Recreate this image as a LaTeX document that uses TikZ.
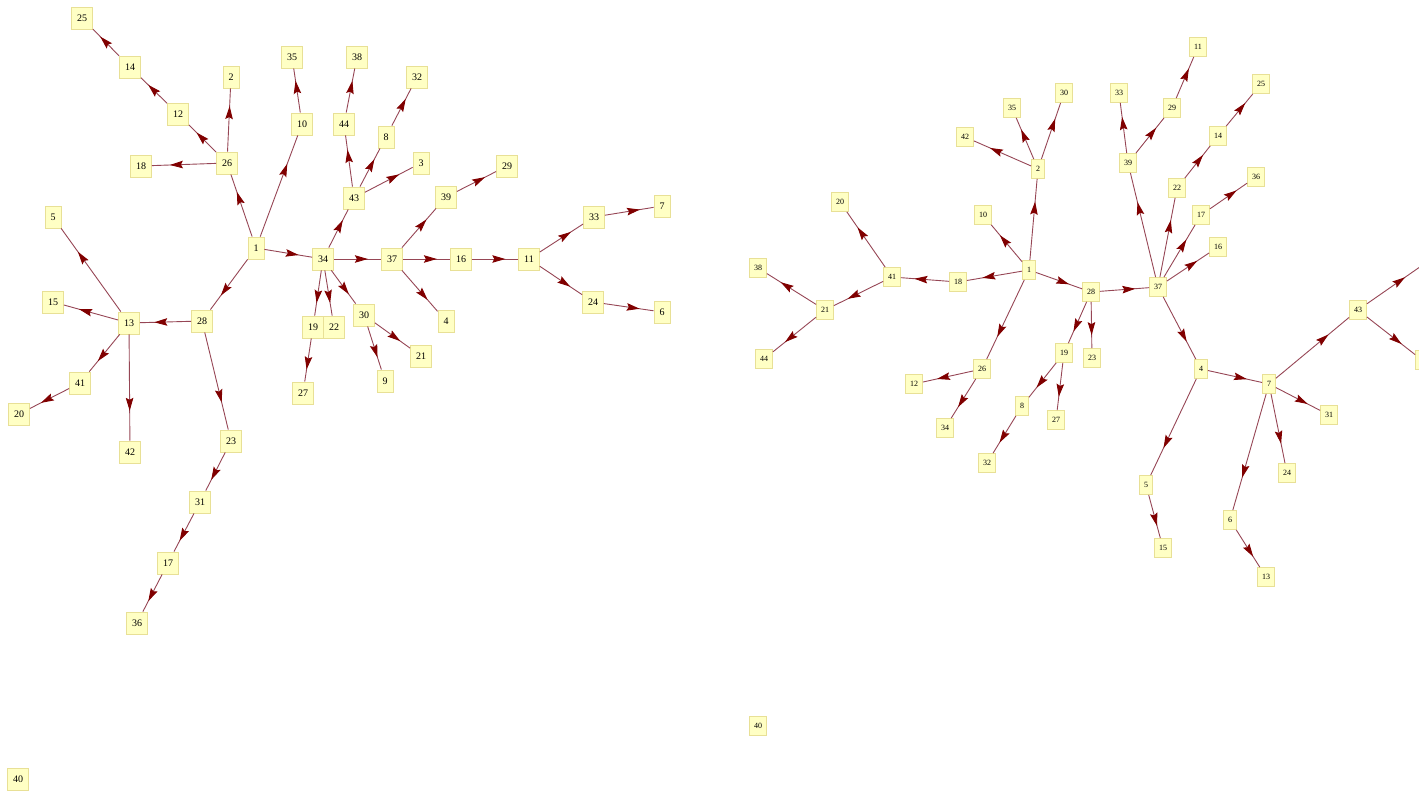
\documentclass[tikz,border=0pt]{standalone}
\usepackage{fontspec}
\setmainfont{Liberation Serif}
\usetikzlibrary{arrows.meta,decorations.markings}
\definecolor{boxfill}{RGB}{255,255,196}
\definecolor{boxborder}{RGB}{232,224,150}
\definecolor{edgeline}{RGB}{150,70,85}
\definecolor{tipcol}{RGB}{128,0,0}
\tikzset{
  lbox/.style={draw=boxborder, fill=boxfill, line width=0.8pt, inner xsep=5.5pt, inner ysep=0pt, minimum height=22pt, font=\fontsize{10}{10}\selectfont},
  rbox/.style={draw=boxborder, fill=boxfill, line width=0.8pt, inner xsep=4.5pt, inner ysep=0pt, minimum height=19pt, font=\fontsize{8}{8}\selectfont},
  edge/.style={draw=edgeline, line width=0.9pt, postaction={decorate},
    decoration={markings, mark=at position 0.72 with {\arrow[tipcol]{Stealth[length=13pt,width=7.5pt,inset=2pt]}}}}
}
\begin{document}
\begin{tikzpicture}[x=1pt,y=-1pt]
\useasboundingbox (0,0) rectangle (1419,792);
% left graph
\foreach \n/\x/\y in {1/256/248,2/231/77,3/421/163,4/446/321,5/53/217,6/662/312,7/662/206,8/386/137,9/385/381,10/302/124,11/529/259,12/178/114,13/129/323,14/130/67,15/53/302,16/461/259,17/168/563,18/141/166,19/313/327,20/19/414,21/421/356,22/334/327,23/231/441,24/593/302,25/82/18,26/227/163,27/303/393,28/202/321,29/507/166,30/364/315,31/200/502,32/417/77,33/594/217,34/323/259,35/292/57,36/137/623,37/392/259,38/357/57,39/446/197,40/18/779,41/80/383,42/130/452,43/354/198,44/344/124}
  \node[lbox] (L\n) at (\x,\y) {\n};
\foreach \a/\b in {1/26,1/10,1/34,1/28,26/2,26/12,26/18,12/14,14/25,10/35,34/43,34/37,34/19,34/22,34/30,43/44,44/38,43/8,8/32,43/3,37/39,39/29,37/16,16/11,37/4,11/33,33/7,11/24,24/6,30/9,30/21,19/27,28/13,28/23,13/5,13/15,13/41,13/42,41/20,23/31,31/17,17/36}
  \draw[edge] (L\a) -- (L\b);
% right graph
\foreach \n/\x/\y in {1/1029/270,2/1038/169,3/1422/360,4/1201/369,5/1146/485,6/1230/520,7/1269/384,8/1022/406,9/1427/262,10/983/215,11/1198/47,12/914/384,13/1266/577,14/1218/136,15/1163/548,16/1218/247,17/1201/215,18/958/282,19/1064/353,20/840/202,21/825/310,22/1177/188,23/1092/358,24/1287/473,25/1261/84,26/982/369,27/1056/420,28/1091/292,29/1172/108,30/1064/93,31/1329/415,32/987/463,33/1119/93,34/945/428,35/1012/108,36/1256/177,37/1158/287,38/758/268,39/1128/163,40/758/726,41/892/277,42/965/137,43/1358/310,44/764/359}
  \node[rbox] (R\n) at (\x,\y) {\n};
\foreach \a/\b in {1/2,2/42,2/35,2/30,1/10,1/18,18/41,41/20,41/21,21/38,21/44,1/26,26/12,26/34,1/28,28/19,19/8,8/32,19/27,28/23,28/37,37/39,39/33,39/29,29/11,37/22,22/14,14/25,37/17,17/36,37/16,37/4,4/5,5/15,4/7,7/43,43/9,43/3,7/31,7/24,7/6,6/13}
  \draw[edge] (R\a) -- (R\b);
\end{tikzpicture}
\end{document}
